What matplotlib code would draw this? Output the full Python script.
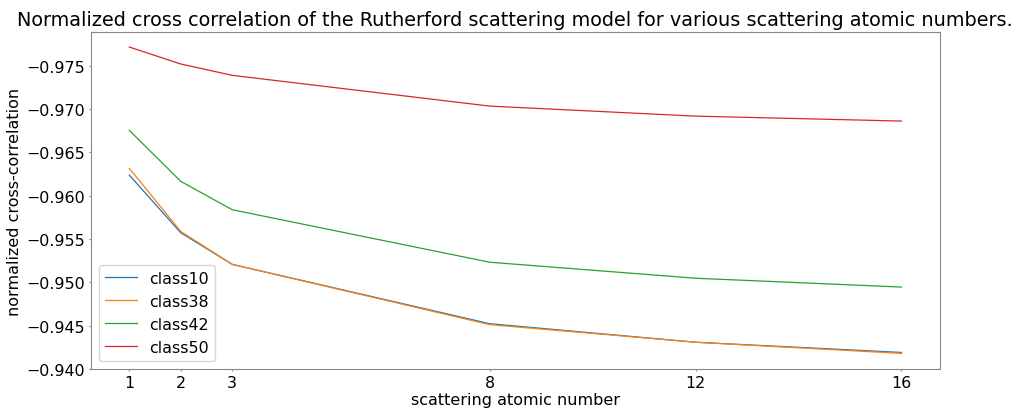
import numpy as np
import matplotlib.pyplot as plt

atomic_numbers = [1, 2, 3, 8, 12, 16]
class10 = [-0.96237, -0.95571, -0.95206, -0.94521, -0.94307, -0.94189]
class38 = [-0.96315, -0.95587, -0.95206, -0.94510, -0.94307, -0.94178]
class42 = [-0.96754, -0.96165, -0.95837, -0.95231, -0.95046, -0.94944]
class50 = [-0.97716, -0.97520, -0.97389, -0.97034, -0.96918, -0.96861]

fig = plt.figure(figsize=(10.19, 4.10), dpi=100)
ax = fig.add_axes([0.089, 0.0976, 0.8335, 0.822])

ax.plot(atomic_numbers, class10, linewidth=0.9, label='class10')
ax.plot(atomic_numbers, class38, linewidth=0.9, label='class38')
ax.plot(atomic_numbers, class42, linewidth=0.9, label='class42')
ax.plot(atomic_numbers, class50, linewidth=0.9, label='class50')

ax.set_ylim(-0.93998, -0.97890)
ax.set_xticks(atomic_numbers)
ax.tick_params(labelsize=11.4, length=1.5, pad=2.5, color='#888888')
for s in ax.spines.values():
    s.set_color('#888888')

ax.set_xlabel("scattering atomic number", fontsize=11.5, labelpad=2)
ax.set_ylabel("normalized cross-correlation", fontsize=11.5, labelpad=3)
ax.set_title("Normalized cross correlation of the Rutherford scattering model for various scattering atomic numbers.", fontsize=13.9, pad=5)
ax.legend(loc='lower left', fontsize=11.4)

plt.savefig("out.png", dpi=100)
